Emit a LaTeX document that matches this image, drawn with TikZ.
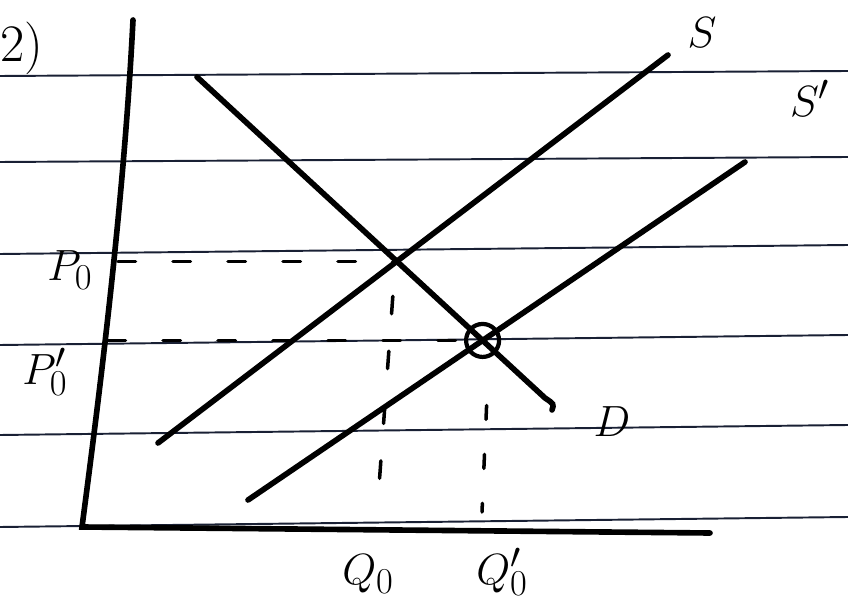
\documentclass[tikz,border=0pt]{standalone}
\definecolor{ruleink}{RGB}{25,32,52}
\begin{document}
\begin{tikzpicture}[x=0.02cm,y=-0.02cm,line cap=round,
  ruled/.style={line width=1.1pt,color=ruleink},
  curve/.style={line width=3.2pt},
  guide/.style={line width=2pt,dash pattern=on 0.35cm off 0.75cm},
  lbl/.style={font=\fontsize{30}{34}\selectfont}]
\useasboundingbox (0,0) rectangle (848,607);
% lined paper
\foreach \yl/\yr in {76/71,162/157,254/245,345/335,435/425,527/517}
  \draw[ruled] (0,\yl) -- (848,\yr);
% axes
\coordinate (top) at (133,20);
\coordinate (origin) at (82,527);
\coordinate (qend) at (710,533);
\draw[curve] (top) .. controls (124,200) and (100,390) .. (origin) -- (qend);
% demand and the two supply lines
\coordinate (d1) at (197,77);
\coordinate (d2) at (545,398);
\coordinate (s1) at (158,443);
\coordinate (s2) at (668,55);
\coordinate (t1) at (248,500);
\coordinate (t2) at (745,162);
\draw[curve] (d1) -- (d2) .. controls (554,404) .. (552,410);
\draw[curve] (s1) -- (s2);
\draw[curve] (t1) -- (t2);
\coordinate (E0) at (intersection of d1--d2 and s1--s2);
\coordinate (E1) at (intersection of d1--d2 and t1--t2);
\draw[line width=2.4pt] (E1) circle (0.33cm);
% dashed guides
\draw[guide] (E0 -| 118,0) -- (E0);
\draw[guide] (E1 -| 108,0) -- (E1);
\draw[guide] (E0) ++(-4,35) -- (378,500);
\draw[guide,dash pattern=on 0.28cm off 0.7cm] (E1) ++(4,65) -- (482,512);
% labels
\node[lbl] (part) at (22,48) {2)};
\node[lbl] (p0) at (70,270) {$P_0$};
\node[lbl] (p0b) at (45,372) {$P_0'$};
\node[lbl] (q0) at (368,574) {$Q_0$};
\node[lbl] (q0b) at (502,572) {$Q_0'$};
\node[lbl] (slab) at (702,33) {$S$};
\node[lbl] (sblab) at (810,98) {$S'$};
\node[lbl] (dlab) at (612,422) {$D$};
\end{tikzpicture}
\end{document}
